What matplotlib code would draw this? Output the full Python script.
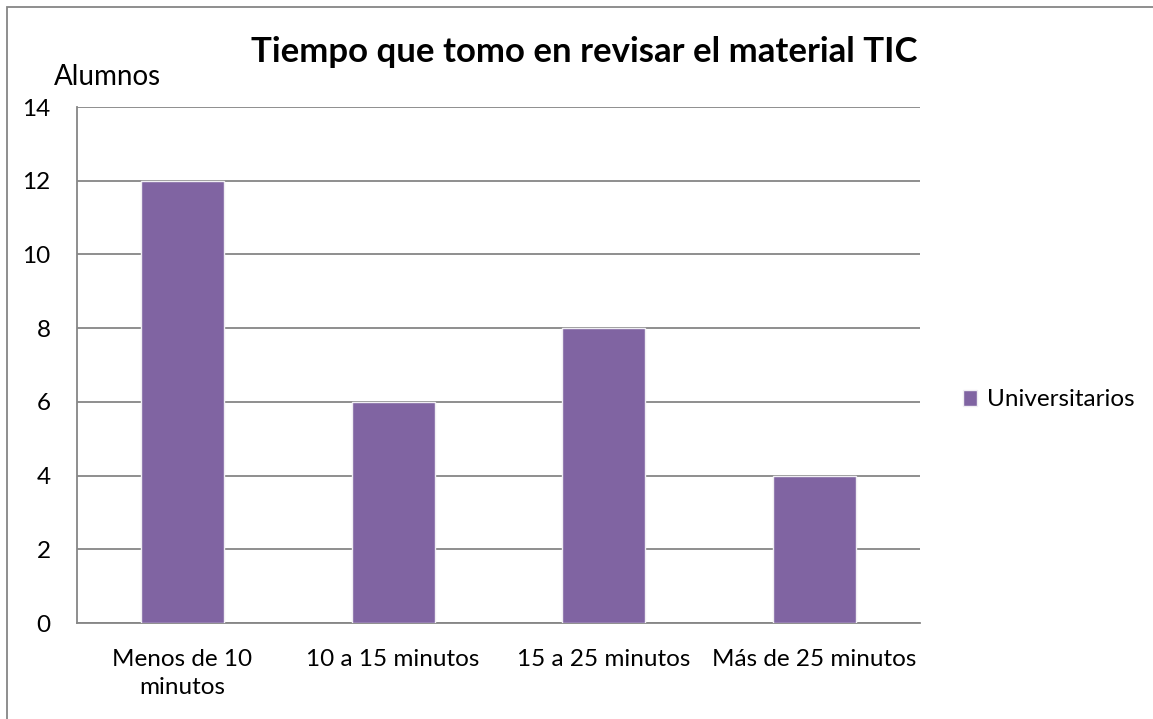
import matplotlib
matplotlib.use("Agg")
import matplotlib.pyplot as plt
from matplotlib.patches import Rectangle

categories = ["Menos de 10\nminutos", "10 a 15 minutos", "15 a 25 minutos", "Más de 25 minutos"]
values = [12, 6, 8, 4]
series_name = "Universitarios"
title = "Tiempo que tomo en revisar el material TIC"
y_label = "Alumnos"
y_ticks = [0, 2, 4, 6, 8, 10, 12, 14]

W, H = 1153, 719
plt.rcParams['font.family'] = ['Lato', 'DejaVu Sans']
fig = plt.figure(figsize=(W / 100, H / 100), dpi=100)

# outer chart border
fig.patches.append(Rectangle((7 / W, -0.1), 1.2, (H - 7) / H + 0.1, transform=fig.transFigure,
                             fill=False, edgecolor='#868686', linewidth=1.3))

left, right, top, bottom = 77, 920, 107, 623
ax = fig.add_axes([left / W, 1 - bottom / H, (right - left) / W, (bottom - top) / H])

x = list(range(len(categories)))
bars = ax.bar(x, values, width=0.395, color='#8064A2', edgecolor='#F0EEF3', linewidth=1.0,
              label=series_name, zorder=3)
ax.set_xlim(-0.5, len(categories) - 0.5)
ax.set_ylim(0, 14)
ax.set_yticks(y_ticks)
ax.set_xticks(x)
ax.set_xticklabels(categories, fontsize=17.5, linespacing=1.4)
ax.tick_params(axis='both', length=0, labelsize=17.5, colors='black')
ax.tick_params(axis='y', pad=19)
ax.tick_params(axis='x', pad=19)
ax.grid(axis='y', color='#868686', linewidth=1.3, zorder=0)
for s in ['top', 'right']:
    ax.spines[s].set_visible(False)
for s in ['left', 'bottom']:
    ax.spines[s].set_color('#868686')
    ax.spines[s].set_linewidth(1.3)

fig.text(584 / W, 1 - 52 / H, title, ha='center', va='center', fontsize=25, fontweight='bold')
fig.text(107 / W, 1 - 77 / H, y_label, ha='center', va='center', fontsize=20)

leg = ax.legend(loc='center left', bbox_to_anchor=(941 / W, 1 - 400 / H), bbox_transform=fig.transFigure,
                frameon=False, fontsize=17.5, handlelength=0.6, handleheight=0.6, handletextpad=0.4)

fig.savefig("out.png", dpi=100, facecolor='white')
